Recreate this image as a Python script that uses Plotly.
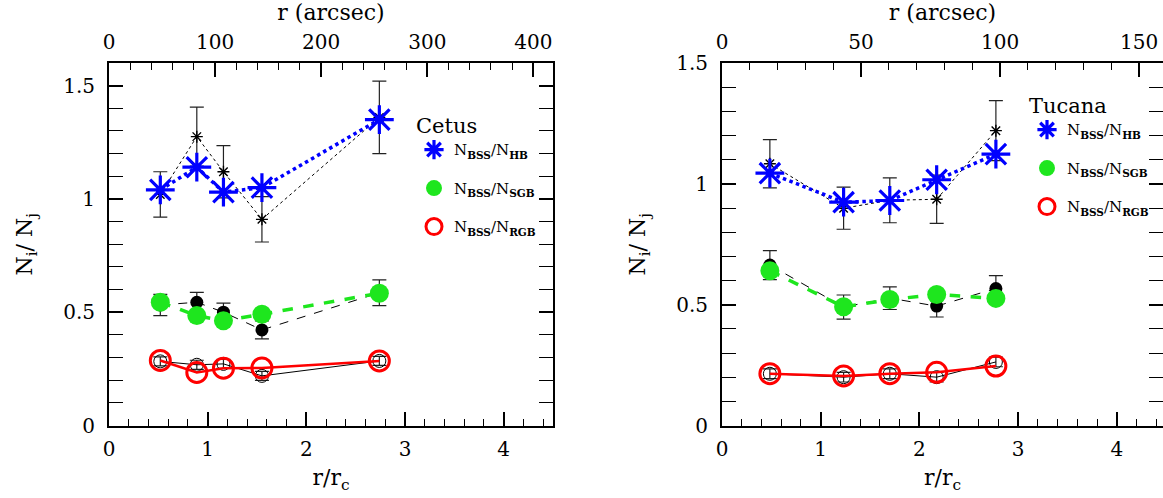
import plotly.graph_objects as go

# ---------------- data ----------------
cetus_r = [0.52, 0.89, 1.16, 1.55, 2.74]
cetus_hb = [1.04, 1.14, 1.03, 1.05, 1.35]
cetus_hb_ref = [1.02, 1.275, 1.12, 0.91, 1.36]
cetus_hb_err = [0.10, 0.13, 0.115, 0.10, 0.16]
cetus_sgb = [0.544, 0.485, 0.462, 0.491, 0.584]
cetus_sgb_ref = [0.532, 0.544, 0.50, 0.422, 0.586]
cetus_sgb_err = [0.047, 0.044, 0.04, 0.04, 0.057]
cetus_rgb = [0.287, 0.234, 0.253, 0.254, 0.285]
cetus_rgb_ref = [0.283, 0.268, 0.272, 0.219, 0.285]
cetus_rgb_err = [0.02, 0.02, 0.02, 0.02, 0.02]

tucana_r = [0.485, 1.232, 1.70, 2.175, 2.775]
tucana_hb = [1.044, 0.924, 0.931, 1.017, 1.123]
tucana_hb_ref = [1.083, 0.899, 0.932, 0.936, 1.22]
tucana_hb_err = [0.10, 0.087, 0.093, 0.10, 0.124]
tucana_sgb = [0.640, 0.491, 0.521, 0.542, 0.526]
tucana_sgb_ref = [0.664, 0.49, 0.527, 0.494, 0.567]
tucana_sgb_err = [0.06, 0.05, 0.047, 0.045, 0.053]
tucana_rgb = [0.2145, 0.205, 0.2145, 0.22, 0.246]
tucana_rgb_ref = [0.214, 0.20, 0.214, 0.20, 0.263]
tucana_rgb_err = [0.02, 0.02, 0.02, 0.02, 0.02]

rc_cetus = 93.0    # arcsec per r_c
rc_tucana = 35.5

labels = ["N<sub><b>BSS</b></sub>/N<sub><b>HB</b></sub>",
          "N<sub><b>BSS</b></sub>/N<sub><b>SGB</b></sub>",
          "N<sub><b>BSS</b></sub>/N<sub><b>RGB</b></sub>"]

BLUE = "#0000ff"
GREEN = "#1ee61e"
RED = "#ff0000"
FONT = "DejaVu Serif"

fig = go.Figure()


def add_panel(xr, hb, hbr, hbe, sg, sgr, sge, rg, rgr, rge, xa, ya, leg):
    refs = [(hbr, hbe, "dot", "asterisk-open", 10, 1.4),
            (sgr, sge, "dash", "circle", 13, 0),
            (rgr, rge, "solid", "circle-open", 13, 1.0)]
    for yv, ev, dash, sym, sz, lw in refs:
        fig.add_trace(go.Scatter(
            x=xr, y=yv, xaxis=xa, yaxis=ya, mode="lines+markers",
            line=dict(color="black", width=1, dash=dash),
            marker=dict(symbol=sym, size=sz, color="black",
                        line=dict(color="black", width=lw)),
            error_y=dict(type="data", array=ev, color="#222", thickness=1.2, width=7),
            showlegend=False, hoverinfo="skip"))
    cols = [(hb, BLUE, "dot", 3.5), (sg, GREEN, "dash", 3.5), (rg, RED, "solid", 2.5)]
    for yv, c, dash, w in cols:
        fig.add_trace(go.Scatter(x=xr, y=yv, xaxis=xa, yaxis=ya, mode="lines",
                                 line=dict(color=c, width=w, dash=dash),
                                 showlegend=False, hoverinfo="skip"))
    marks = [(hb, "asterisk-open", 24, BLUE, 3.2),
             (sg, "circle", 19, GREEN, 0),
             (rg, "circle-open", 20, RED, 3)]
    for i, (yv, sym, sz, c, lw) in enumerate(marks):
        fig.add_trace(go.Scatter(x=xr, y=yv, xaxis=xa, yaxis=ya, mode="markers",
                                 marker=dict(symbol=sym, size=sz, color=c,
                                             line=dict(color=c, width=lw)),
                                 name=labels[i], legend=leg, legendgroup=leg + str(i),
                                 showlegend=True))


add_panel(cetus_r, cetus_hb, cetus_hb_ref, cetus_hb_err, cetus_sgb, cetus_sgb_ref,
          cetus_sgb_err, cetus_rgb, cetus_rgb_ref, cetus_rgb_err, "x", "y", "legend")
add_panel(tucana_r, tucana_hb, tucana_hb_ref, tucana_hb_err, tucana_sgb, tucana_sgb_ref,
          tucana_sgb_err, tucana_rgb, tucana_rgb_ref, tucana_rgb_err, "x2", "y2", "legend2")

fig.add_trace(go.Scatter(x=[], y=[], xaxis="x3", yaxis="y", showlegend=False))
fig.add_trace(go.Scatter(x=[], y=[], xaxis="x4", yaxis="y2", showlegend=False))

W, H = 1163, 498
lx0, lx1 = 109 / W, 553 / W
rx0, rx1 = 722 / W, 1.0
yd = [1 - 425.5 / H, 1 - 63 / H]
right_max = (W - 722) / 98.7

tickfont = dict(family=FONT, size=20, color="black")
titlefont = dict(family=FONT, size=22, color="black")

common_ax = dict(showline=True, linecolor="black", linewidth=2, ticks="inside",
                 tickcolor="black", tickwidth=1.5, ticklen=14, showgrid=False,
                 zeroline=False, tickfont=tickfont, automargin=False)


def xbottom(dom, rng):
    return dict(common_ax, domain=dom, range=rng, dtick=1, tick0=0, mirror=False,
                ticklabelstandoff=4,
                minor=dict(dtick=0.2, ticks="inside", ticklen=7, tickcolor="black",
                           tickwidth=1.2, showgrid=False),
                title=dict(text="r/r<sub>c</sub>", font=titlefont, standoff=10))


def xtop(over, rng, dt, mdt):
    return dict(common_ax, overlaying=over, side="top", anchor="y" if over == "x" else "y2",
                range=rng, dtick=dt, tick0=0, ticklabelstandoff=4,
                minor=dict(dtick=mdt, ticks="inside", ticklen=7, tickcolor="black",
                           tickwidth=1.2, showgrid=False),
                title=dict(text="r (arcsec)", font=titlefont, standoff=4))


def yax(rng, anchor):
    return dict(common_ax, domain=yd, range=rng, dtick=0.5, tick0=0, mirror="allticks",
                anchor=anchor, ticklabelstandoff=8,
                minor=dict(dtick=0.1, ticks="inside", ticklen=7, tickcolor="black",
                           tickwidth=1.2, showgrid=False),
                title=dict(text="N<sub>i</sub>/ N<sub>j</sub>", font=titlefont, standoff=24))


legend_common = dict(font=dict(family=FONT, size=15, color="black"),
                     bgcolor="rgba(0,0,0,0)", tracegroupgap=16,
                     xanchor="left", yanchor="top")

fig.update_layout(
    width=W, height=H, margin=dict(l=0, r=0, t=0, b=0),
    paper_bgcolor="white", plot_bgcolor="white",
    xaxis=xbottom([lx0, lx1], [0, 4.5]),
    xaxis2=dict(xbottom([rx0, rx1], [0, right_max]), anchor="y2"),
    xaxis3=xtop("x", [0, 4.5 * rc_cetus], 100, 20),
    xaxis4=xtop("x2", [0, right_max * rc_tucana], 50, 10),
    yaxis=yax([0, 1.6], "x"),
    yaxis2=yax([0, 1.5], "x2"),
    legend=dict(legend_common, x=414 / W, y=1 - 106 / H,
                title=dict(text="Cetus", font=dict(family=FONT, size=21, color="black"))),
    legend2=dict(legend_common, x=1027 / W, y=1 - 86 / H,
                 title=dict(text="Tucana", font=dict(family=FONT, size=21, color="black"))),
)

fig.write_html("out.html", config={"displayModeBar": False},
               post_script="document.body.style.margin='0';document.body.style.overflow='hidden';")
